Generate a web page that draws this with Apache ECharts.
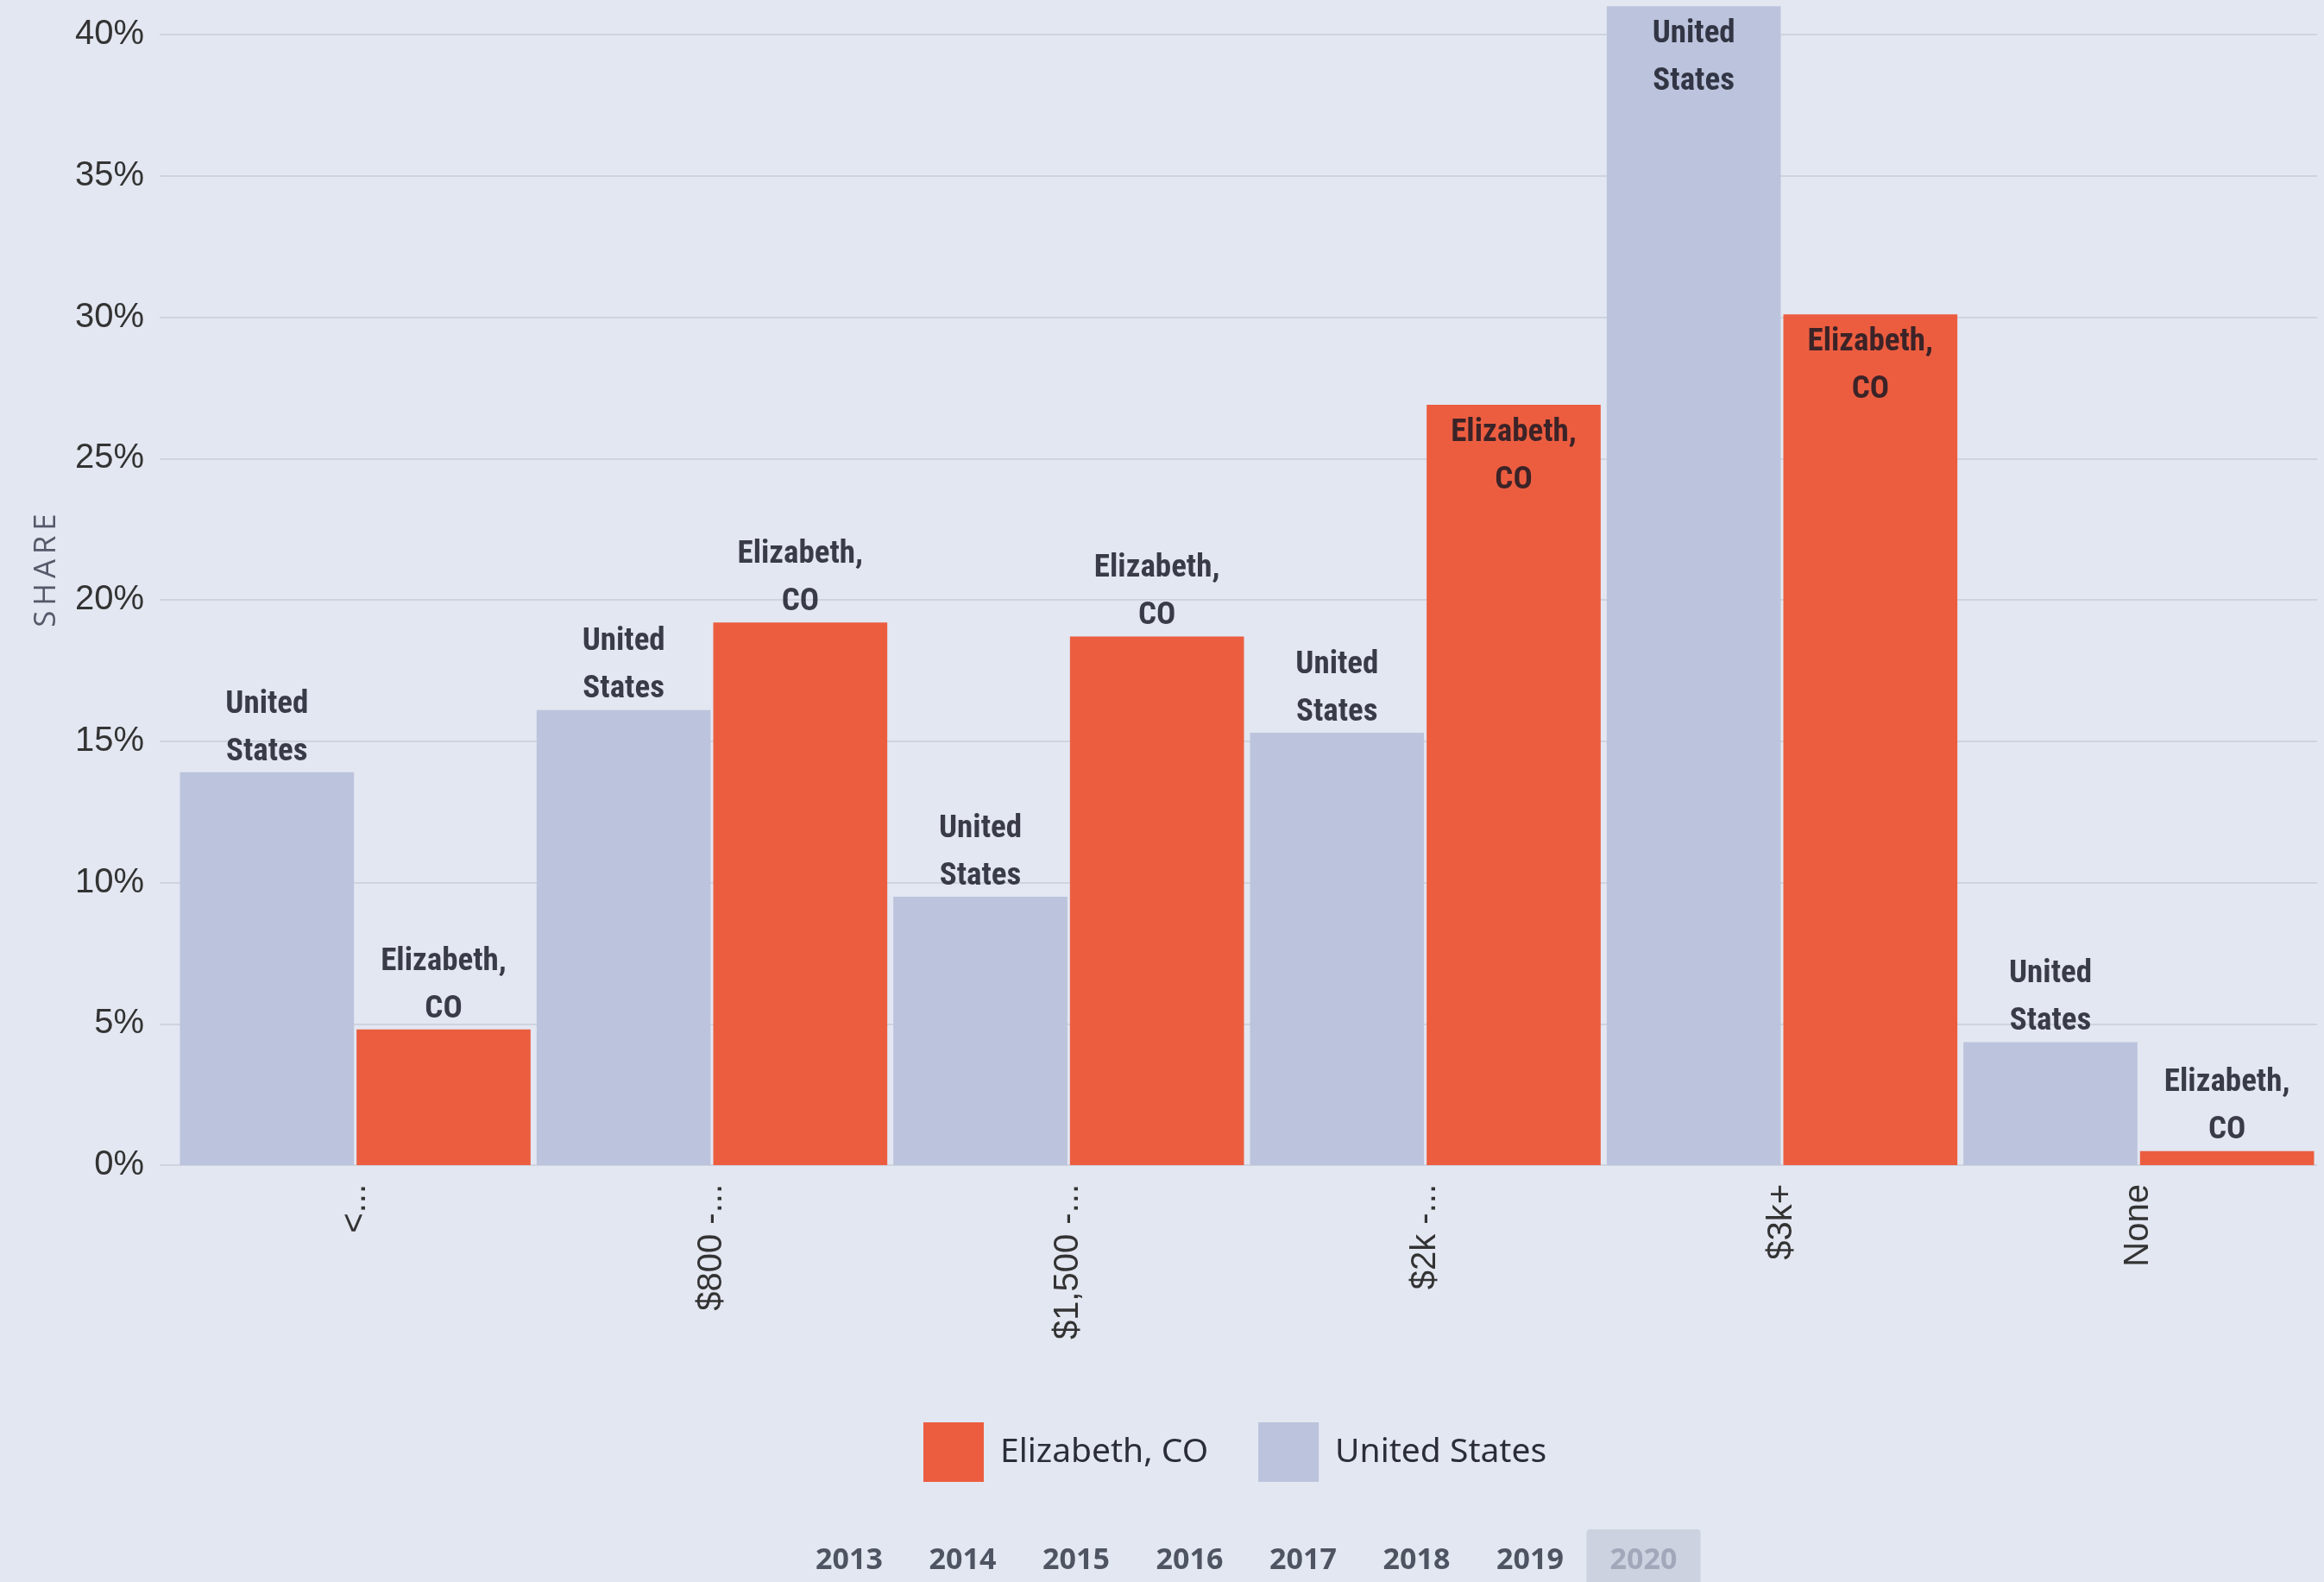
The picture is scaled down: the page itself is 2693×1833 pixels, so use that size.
<!DOCTYPE html>
<html>
<head>
<meta charset="utf-8">
<title>Monthly housing costs – Elizabeth, CO vs United States</title>
<script src="https://cdn.jsdelivr.net/npm/echarts@6/dist/echarts.min.js"></script>
<style>
  html, body { margin: 0; padding: 0; background: #e3e7f1; }
  #chart { width: 2693px; height: 1833px; }
</style>
</head>
<body>
<div id="chart"></div>
<script>
// Cost brackets (axis labels as shown, truncated)
const categories = ['<...', '$800 -...', '$1,500 -...', '$2k -...', '$3k+', 'None'];

// Share of households in each bracket, percent
const usValues = [13.9, 16.1, 9.5, 15.3, 41.0, 4.35];
const elizabethValues = [4.8, 19.2, 18.7, 26.9, 30.1, 0.5];

// Y axis ticks
const yMin = 0;
const yMax = 40;
const yStep = 5;

// Year selector row
const years = ['2013', '2014', '2015', '2016', '2017', '2018', '2019', '2020'];
const activeYear = '2020';

const US_NAME = 'United States';
const ELIZ_NAME = 'Elizabeth, CO';

const chart = echarts.init(document.getElementById('chart'), null, { renderer: 'canvas' });

// Tall bars carry their label inside the top of the bar, shorter ones above it
function labelled(values) {
  return values.map(v => ({
    value: v,
    label: v > 25 ? { position: 'insideTop', distance: 5 } : { position: 'top', distance: -4 }
  }));
}

const barLabel = {
  show: true,
  formatter: p => p.seriesName.replace(' ', '\n'),
  fontFamily: '"Liberation Sans Narrow", "Roboto Condensed", "DejaVu Sans Condensed", Roboto, sans-serif',
  fontWeight: 'bold',
  fontSize: 37,
  lineHeight: 55,
  color: 'rgba(20, 22, 34, 0.82)',
  align: 'center'
};

// Year selector drawn as plain graphics under the legend
const yearX0 = 984;
const yearStep = 131.5;
const yearGraphics = [];
years.forEach((y, i) => {
  const cx = yearX0 + i * yearStep;
  if (y === activeYear) {
    yearGraphics.push({
      type: 'rect',
      shape: { x: cx - 66, y: 1772, width: 132, height: 70, r: 4 },
      style: { fill: '#cdd2e1' },
      z: 1
    });
  }
  yearGraphics.push({
    type: 'text',
    x: cx,
    y: 1808,
    style: {
      text: y,
      fontFamily: '"Open Sans", "Noto Sans", sans-serif',
      fontWeight: 'bold',
      fontSize: 34,
      fill: y === activeYear ? '#a2a8ba' : '#4f5462',
      align: 'center',
      verticalAlign: 'middle'
    },
    z: 2
  });
});

const option = {
  backgroundColor: '#e3e7f1',
  animation: false,
  grid: {
    left: 205, right: 8, top: 40, bottom: 483,
    containLabel: false,
    outerBoundsMode: 'none'
  },
  legend: {
    data: [ELIZ_NAME, US_NAME],
    left: 1065,
    top: 1643,
    itemWidth: 70,
    itemHeight: 69,
    itemGap: 58,
    icon: 'rect',
    textStyle: {
      fontFamily: '"Noto Sans", "Open Sans", sans-serif',
      fontSize: 39,
      color: '#2b2e38',
      padding: [0, 0, 0, 14]
    },
    selectedMode: false
  },
  xAxis: {
    type: 'category',
    data: categories,
    axisLine: { show: false },
    axisTick: { show: false },
    axisLabel: {
      rotate: 90,
      margin: 22,
      fontFamily: '"Liberation Sans", Arial, sans-serif',
      fontSize: 40,
      color: '#333333'
    }
  },
  yAxis: {
    type: 'value',
    min: yMin,
    max: yMax,
    interval: yStep,
    name: 'S\u2009H\u2009A\u2009R\u2009E',
    nameLocation: 'middle',
    nameGap: 133,
    nameRotate: 90,
    nameTextStyle: {
      fontFamily: '"Open Sans", "Noto Sans", sans-serif',
      fontSize: 35,
      color: '#55596a',
      padding: [0, 0, 0, 68]
    },
    axisLine: { show: false },
    axisTick: { show: true, length: 20, lineStyle: { color: '#cfd3df', width: 2 } },
    axisLabel: {
      formatter: '{value}%',
      margin: 38,
      fontFamily: '"Liberation Sans", Arial, sans-serif',
      fontSize: 40,
      color: '#333333'
    },
    splitLine: { lineStyle: { color: '#cfd3df', width: 2 } }
  },
  series: [
    {
      name: US_NAME,
      type: 'bar',
      data: labelled(usValues),
      clip: false,
      barGap: '1.5%',
      barCategoryGap: '1.7%',
      itemStyle: { color: '#bcc3dc' },
      label: barLabel,
      z: 3
    },
    {
      name: ELIZ_NAME,
      type: 'bar',
      data: labelled(elizabethValues),
      clip: false,
      barGap: '1.5%',
      barCategoryGap: '1.7%',
      itemStyle: { color: '#ec5d40' },
      label: barLabel,
      z: 3
    }
  ],
  graphic: yearGraphics
};

chart.setOption(option);
</script>
</body>
</html>
